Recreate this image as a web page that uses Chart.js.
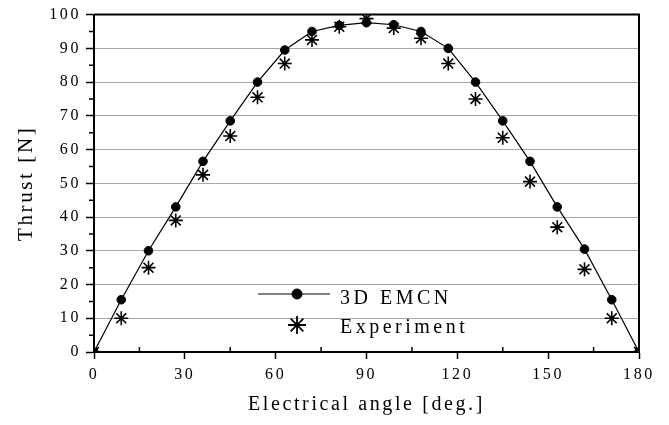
<!DOCTYPE html>
<html>
<head>
<meta charset="utf-8">
<script src="https://cdn.jsdelivr.net/npm/chart.js@4.4.0/dist/chart.umd.min.js"></script>
<style>
  html, body { margin: 0; padding: 0; background: #fff; }
  #wrap { width: 669px; height: 425px; position: relative; }
</style>
</head>
<body>
<div id="wrap"><canvas id="thrust-chart"></canvas></div>
<script>
// electrical angle (deg.) of each measured / computed point
let angles = [0, 9, 18, 27, 36, 45, 54, 63, 72, 81, 90, 99, 108, 117, 126, 135, 144, 153, 162, 171, 180];

// thrust [N] from the 3D EMCN computation
let emcnThrust = [0, 15.5, 30, 43, 56.5, 68.5, 80, 89.5, 95, 96.8, 97.6, 97, 95, 90, 80, 68.5, 56.5, 43, 30.5, 15.5, 0];

// thrust [N] from the experiment
let expThrust = [0, 10, 25, 39, 52.5, 64, 75.5, 85.5, 92.5, 96.4, 98.8, 96, 93, 85.5, 75, 63.5, 50.5, 37, 24.5, 10, 0];

let xTicks = [0, 30, 60, 90, 120, 150, 180];
let yTicks = [0, 10, 20, 30, 40, 50, 60, 70, 80, 90, 100];

let legendLabels = ['3D EMCN', 'Experiment'];

let serif = "'Liberation Serif', 'Times New Roman', serif";

let toPoints = (xs, ys) => xs.map((x, i) => ({ x: x, y: ys[i] }));

// frame, minor ticks and the in-plot legend
let paperPlugin = {
  id: 'paper',
  beforeDraw(chart) {
    chart.ctx.letterSpacing = '2.6px';
  },
  afterDraw(chart) {
    let ctx = chart.ctx;
    let a = chart.chartArea;
    let xs = chart.scales.x;
    let ys = chart.scales.y;
    ctx.save();
    ctx.letterSpacing = '0px';
    ctx.strokeStyle = '#000';
    ctx.lineWidth = 2;
    ctx.beginPath();
    ctx.moveTo(a.left, a.top);
    ctx.lineTo(a.right, a.top);
    ctx.lineTo(a.right, a.bottom);
    ctx.stroke();

    // minor ticks: outward on y, inward on x
    ctx.lineWidth = 1.5;
    ctx.beginPath();
    for (let v = 5; v < 100; v += 10) {
      let py = ys.getPixelForValue(v);
      ctx.moveTo(a.left - 5, py);
      ctx.lineTo(a.left, py);
    }
    for (let v = 15; v < 180; v += 30) {
      let px = xs.getPixelForValue(v);
      ctx.moveTo(px, a.bottom);
      ctx.lineTo(px, a.bottom - 5);
    }
    ctx.stroke();

    // legend
    let lx = 258, lw = 72;
    let rows = [294, 325];
    let sets = chart.data.datasets;
    ctx.strokeStyle = '#000';
    ctx.fillStyle = '#000';
    ctx.lineWidth = 1;
    ctx.beginPath();
    ctx.moveTo(lx, rows[0]);
    ctx.lineTo(lx + lw, rows[0]);
    ctx.stroke();
    Chart.helpers.drawPoint(ctx, {
      pointStyle: sets[0].pointStyle, radius: 5, borderWidth: 1
    }, lx + lw / 2 + 3, rows[0]);
    ctx.lineWidth = 1.8;
    Chart.helpers.drawPoint(ctx, {
      pointStyle: sets[1].pointStyle, radius: 9, borderWidth: 1.8
    }, lx + lw / 2 + 3, rows[1]);
    ctx.font = '20px ' + serif;
    ctx.letterSpacing = '3.5px';
    ctx.textAlign = 'left';
    ctx.textBaseline = 'middle';
    ctx.fillText(legendLabels[0], 340, rows[0] + 5);
    ctx.fillText(legendLabels[1], 340, rows[1] + 3);
    ctx.restore();
  }
};

let renderChart = () => {
  let ctx = document.getElementById('thrust-chart').getContext('2d');

  new Chart(ctx, {
    type: 'line',
    data: {
      datasets: [
        {
          label: legendLabels[0],
          data: toPoints(angles, emcnThrust),
          borderColor: '#000',
          backgroundColor: '#000',
          borderWidth: 1.2,
          pointStyle: 'circle',
          pointRadius: 4.3,
          pointBorderWidth: 1,
          tension: 0,
          clip: 0,
        },
        {
          label: legendLabels[1],
          data: toPoints(angles, expThrust),
          showLine: false,
          borderColor: '#000',
          backgroundColor: '#000',
          borderWidth: 1.6,
          pointStyle: 'star',
          pointRadius: 7,
          pointBorderWidth: 1.6,
          clip: 0,
        },
      ],
    },
    options: {
      responsive: true,
      maintainAspectRatio: false,
      animation: false,
      layout: { padding: { top: 13, right: 30, left: 0, bottom: 0 } },
      plugins: {
        legend: { display: false },
        tooltip: { enabled: false },
      },
      scales: {
        x: {
          type: 'linear',
          min: 0,
          max: 180,
          afterFit: s => { s.height = 73; },
          afterBuildTicks: s => { s.ticks = xTicks.map(v => ({ value: v })); },
          border: { color: '#000', width: 2 },
          grid: {
            drawOnChartArea: false,
            tickLength: 7,
            tickColor: '#000',
            tickWidth: 1.5,
          },
          ticks: {
            color: '#000',
            padding: 6,
            maxRotation: 0,
            font: { family: serif, size: 16 },
          },
          title: {
            display: true,
            text: 'Electrical angle [deg.]',
            color: '#000',
            font: { family: serif, size: 20 },
            padding: { top: 0, bottom: 8 },
          },
        },
        y: {
          min: 0,
          max: 100,
          afterFit: s => { s.width = 94; },
          afterBuildTicks: s => { s.ticks = yTicks.map(v => ({ value: v })); },
          border: { color: '#000', width: 2 },
          grid: {
            color: c => (c.tick && c.tick.value > 0 && c.tick.value < 100) ? '#a8a8a8' : 'rgba(0,0,0,0)',
            borderDash: [1, 5],
            lineWidth: 1,
            tickLength: 8,
            tickColor: '#000',
            tickWidth: 1.5,
            tickBorderDash: [],
          },
          ticks: {
            color: '#000',
            padding: 5,
            font: { family: serif, size: 16 },
          },
          title: {
            display: true,
            text: 'Thrust [N]',
            color: '#000',
            font: { family: serif, size: 21 },
            padding: { top: 14, bottom: 0 },
          },
        },
      },
    },
    plugins: [paperPlugin],
  });
};

renderChart();
</script>
</body>
</html>
